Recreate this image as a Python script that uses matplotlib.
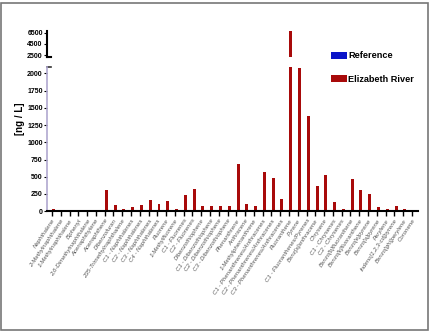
import numpy as np
import matplotlib.pyplot as plt
from matplotlib.patches import Rectangle

plt.rcParams['font.family'] = ['Liberation Sans', 'DejaVu Sans']

compounds = [
    "Naphthalene", "2-Methylnaphthalene", "1-Methylnaphthalene", "Biphenyl",
    "2,6-Dimethylnaphthalene", "Acenaphthylene", "Acenaphthene", "Dibenzofuran",
    "235-Trimethylnaphthalene", "C1 - Naphthalenes", "C2 - Naphthalenes",
    "C3 - Naphthalenes", "C4 - Naphthalenes", "Fluorene", "1-Methylfluorene",
    "C1 - Fluorenes", "C2 - Fluorenes", "Dibenzothiophene",
    "C1 - Dibenzothiophene", "C2 - Dibenzothiophene", "C3 - Dibenzothiophene",
    "Phenanthrene", "Anthracene", "1-Methylphenanthrene",
    "C1 - Phenanthrenes/Anthracenes", "C2 - Phenanthrenes/Anthracenes",
    "C3 - Phenanthrenes/Anthracenes", "Fluoranthene", "Pyrene",
    "C1 - Fluoranthenes/Pyrenes", "Benz[a]anthracene", "Chrysene",
    "C1 - Chrysenes", "C2 - Chrysenes", "Benzo[b]fluoranthene",
    "Benzo[k]fluoranthene", "Benzo[e]pyrene", "Benzo[a]pyrene", "Perylene",
    "Indeno[1,2,3-cd]pyrene", "Benzo[ghi]perylene", "Coronene",
]
reference = [0] * len(compounds)
elizabeth = [35, 20, 20, 4, 4, 4, 300, 88, 25, 55, 88, 157, 108, 142, 30,
             240, 323, 69, 69, 69, 69, 691, 103, 74, 569, 475, 176, 6850,
             2085, 1385, 371, 522, 132, 34, 469, 312, 249, 54, 24, 68, 29, 0]

red = "#a80a0a"
blue = "#0a14c8"
x = np.arange(len(compounds))
w = 0.34
off = 0.19

fig = plt.figure(figsize=(4.31, 3.33), dpi=100)
fig.add_artist(Rectangle((0.002, 0.009), 0.991, 0.982, transform=fig.transFigure,
                         fill=False, edgecolor="#777777", lw=1.2))

ax = fig.add_axes([0.109, 0.366, 0.861, 0.434])
top = fig.add_axes([0.109, 0.828, 0.861, 0.080])

for a in (ax, top):
    a.bar(x - off, reference, w, color=blue, label="Reference")
    a.bar(x + off, elizabeth, w, color=red, label="Elizabeth River")
    a.set_xlim(-0.57, 41.7)
    for s in ("top", "right"):
        a.spines[s].set_visible(False)

ax.set_ylim(0, 2100)
ax.set_yticks([0, 250, 500, 750, 1000, 1250, 1500, 1750, 2000])
ax.spines["left"].set_color("#b0a8d0")
ax.spines["left"].set_linewidth(1.2)
ax.spines["bottom"].set_linewidth(1.5)
ax.set_xticks(x)
ax.set_xticklabels(compounds, rotation=56, ha="right", rotation_mode="anchor",
                   fontsize=4.3, color="#555555", style="italic")
ax.tick_params(axis="x", length=3.5, width=1.0, pad=1.5)
ax.tick_params(axis="y", length=2, width=0.8, pad=1, labelsize=5)
for t in ax.get_yticklabels():
    t.set_fontweight("bold")
ax.set_ylabel("[ng / L]", fontsize=7, fontweight="bold")
ax.yaxis.set_label_coords(-0.058, 0.64)

top.set_ylim(2100, 6900)
top.set_yticks([2500, 4500, 6500])
top.spines["bottom"].set_visible(False)
top.spines["left"].set_linewidth(1.5)
top.set_xticks([])
top.tick_params(axis="y", length=2, width=0.8, pad=1, labelsize=5)
for t in top.get_yticklabels():
    t.set_fontweight("bold")

# break marks
ax.plot([0, 0.012], [1, 1], transform=ax.transAxes, color="#333333", lw=1.2, clip_on=False)
top.plot([0, 0.012], [0, 0], transform=top.transAxes, color="black", lw=1.5, clip_on=False)

handles, labels = top.get_legend_handles_labels()
fig.legend(handles, labels, loc="upper left", bbox_to_anchor=(0.75, 0.871),
           frameon=False, prop={"weight": "bold", "size": 6.6},
           handlelength=1.7, handleheight=0.8, handletextpad=0.15,
           labelspacing=1.6)

fig.savefig("out.png", dpi=100)
